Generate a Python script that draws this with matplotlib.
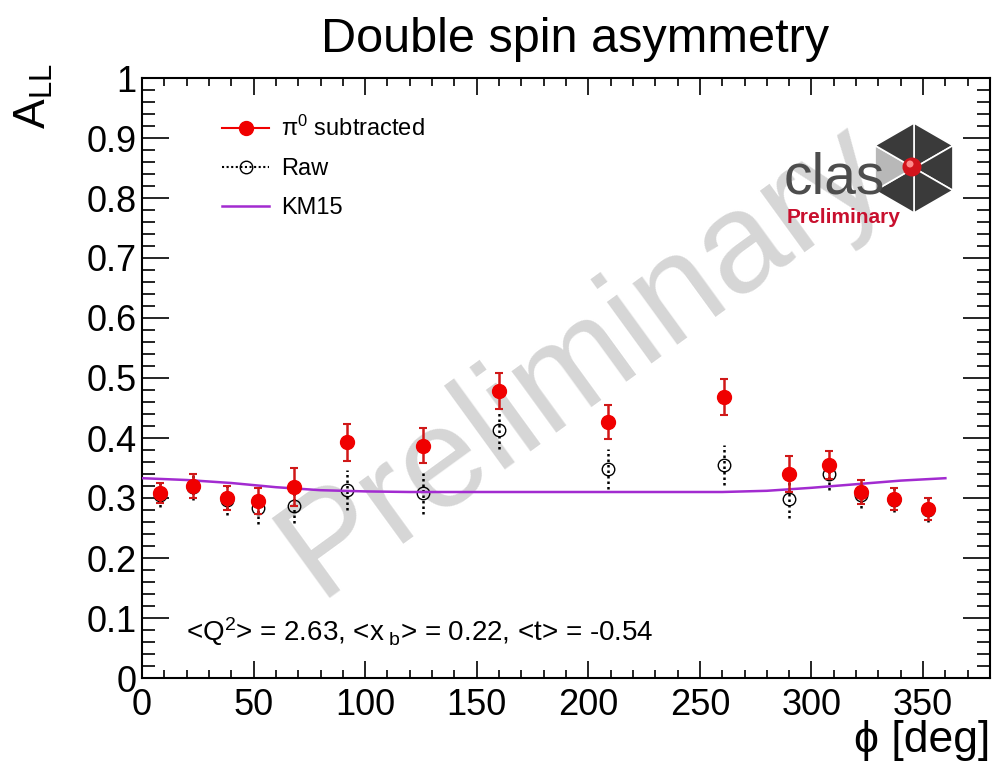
import matplotlib
matplotlib.use("Agg")
import matplotlib.pyplot as plt
from matplotlib.lines import Line2D
from matplotlib.patches import Polygon, Circle
from matplotlib.ticker import MultipleLocator, FuncFormatter
import numpy as np

plt.rcParams['font.family'] = ['Liberation Sans', 'DejaVu Sans']
plt.rcParams['mathtext.fontset'] = 'custom'
plt.rcParams['mathtext.rm'] = 'Liberation Sans'
plt.rcParams['mathtext.it'] = 'Liberation Sans:italic'
plt.rcParams['mathtext.bf'] = 'Liberation Sans:bold'

# ----------------------
# Data
# ----------------------
phi = [8, 23, 38, 52, 68, 92, 126, 160, 209, 261, 290, 308, 322, 337, 352]

all_sub = [0.308, 0.320, 0.300, 0.295, 0.318, 0.393, 0.387, 0.478, 0.427,
           0.468, 0.340, 0.355, 0.310, 0.298, 0.282]
all_sub_err = [0.017, 0.020, 0.020, 0.022, 0.032, 0.031, 0.029, 0.030, 0.028,
               0.030, 0.030, 0.024, 0.020, 0.018, 0.018]

all_raw = [0.305, 0.318, 0.297, 0.283, 0.287, 0.313, 0.308, 0.413, 0.348,
           0.355, 0.298, 0.340, 0.305, 0.297, 0.280]
all_raw_err = [0.020, 0.022, 0.025, 0.027, 0.028, 0.033, 0.035, 0.032, 0.033,
               0.033, 0.032, 0.026, 0.022, 0.020, 0.020]

km_phi = [0, 20, 40, 60, 80, 100, 120, 140, 160, 180, 200, 220, 240, 260,
          280, 300, 320, 340, 360]
km_all = [0.333, 0.330, 0.325, 0.318, 0.313, 0.311, 0.310, 0.310, 0.310, 0.310,
          0.310, 0.310, 0.310, 0.310, 0.312, 0.317, 0.323, 0.329, 0.333]

kin_text = r'<Q$^{2}$> = 2.63, <x$_{\ \rm b}$> = 0.22, <t> = -0.54'

# ----------------------
# Figure / axes
# ----------------------
W, H = 1002, 765
fig = plt.figure(figsize=(W / 100, H / 100), dpi=100)
ax = fig.add_axes([142 / W, 1 - 678 / H, 848 / W, 600 / H])

ax.set_xlim(0, 380)
ax.set_ylim(0, 1)

# watermark
ax.text(0.52, 0.53, 'Preliminary', transform=ax.transAxes, rotation=36,
        fontsize=102, color='#d6d6d6', ha='center', va='center', zorder=0)

# raw points (dotted error bars, open circles)
eb_raw = ax.errorbar(phi, all_raw, yerr=all_raw_err, fmt='o', mfc='none',
                     mec='black', mew=1.0, ms=9, ecolor='black',
                     elinewidth=1.8, capsize=0, zorder=2)
eb_raw[2][0].set_linestyle((0, (1, 1.2)))

# model curve
ax.plot(km_phi, km_all, color='#a22bd0', lw=1.8, zorder=3)

# pi0 subtracted points
ax.errorbar(phi, all_sub, yerr=all_sub_err, fmt='o', color='#f00000', ms=10,
            ecolor='#d01818', elinewidth=1.8, capsize=3, capthick=1.5, zorder=4)

# ticks, ROOT style
ax.xaxis.set_major_locator(MultipleLocator(50))
ax.xaxis.set_minor_locator(MultipleLocator(10))
ax.yaxis.set_major_locator(MultipleLocator(0.1))
ax.yaxis.set_minor_locator(MultipleLocator(0.02))
fmt = FuncFormatter(lambda v, p: '%g' % round(v, 3))
ax.xaxis.set_major_formatter(fmt)
ax.yaxis.set_major_formatter(fmt)

ax.tick_params(which='both', direction='in', top=True, right=True,
               labelsize=26, width=1.2, colors='black')
ax.tick_params(axis='x', which='major', length=12.5, pad=7)
ax.tick_params(axis='x', which='minor', length=6)
ax.tick_params(axis='y', which='major', length=19.5, pad=4)
ax.tick_params(axis='y', which='minor', length=9.5)
for s in ax.spines.values():
    s.set_linewidth(1.5)

# legend
handles = [
    Line2D([], [], color='#f00000', marker='o', ms=10, lw=1.5),
    Line2D([], [], color='black', ls=(0, (1, 1.2)), lw=1.5, marker='o',
           mfc='none', mec='black', ms=9),
    Line2D([], [], color='#a22bd0', lw=1.8),
]
labels = [r'$\mathrm{\pi}^{0}$ subtracted', 'Raw', 'KM15']
ax.legend(handles, labels, loc='upper left',
          bbox_to_anchor=((222 - 142) / 848, (678 - 116) / 600),
          frameon=False, fontsize=17, handlelength=2.0, handletextpad=0.5,
          labelspacing=0.72, borderpad=0, borderaxespad=0)

# labels and title
fig.text(575 / W, 1 - 52 / H, 'Double spin asymmetry', fontsize=35,
         ha='center', va='baseline')
fig.text(13 / W, 1 - 63 / H, r'A$_{\rm LL}$', rotation=90, fontsize=32,
         ha='left', va='top')
fig.text(990 / W, 1 - 752 / H, 'ϕ [deg]', fontsize=32, ha='right',
         va='baseline')
fig.text(186 / W, 1 - 641 / H, kin_text, fontsize=20, ha='left',
         va='baseline')

# ----------------------
# CLAS logo (pixel coordinates)
# ----------------------
lax = fig.add_axes([0, 0, 1, 1], zorder=5)
lax.set_xlim(0, W)
lax.set_ylim(H, 0)
lax.axis('off')
lax.patch.set_alpha(0)

cx, cy, r = 914, 168, 45
ang = np.deg2rad([90, 30, -30, -90, -150, 150])
vx = cx + r * np.cos(ang)
vy = cy - r * np.sin(ang)
face = ['#3a3a3a', '#3a3a3a', '#3a3a3a', '#3a3a3a', '#b8b8b8', '#3a3a3a']
for i in range(6):
    j = (i + 1) % 6
    lax.add_patch(Polygon([(cx, cy), (vx[i], vy[i]), (vx[j], vy[j])],
                          closed=True, fc=face[i], ec='white', lw=1.2))
lax.add_patch(Circle((cx - 2, cy - 1), 9.5, fc='#d2141c', ec='none'))
lax.add_patch(Circle((cx - 4, cy - 4), 3.5, fc='#ff8a8a', ec='none'))
lax.text(784, 193, 'clas', fontsize=41, color='#4d4d4d', ha='left',
         va='baseline')
lax.text(787, 223, 'Preliminary', fontsize=15, fontweight='bold',
         color='#c8102e', ha='left', va='baseline')

fig.savefig('out.png', dpi=100)
